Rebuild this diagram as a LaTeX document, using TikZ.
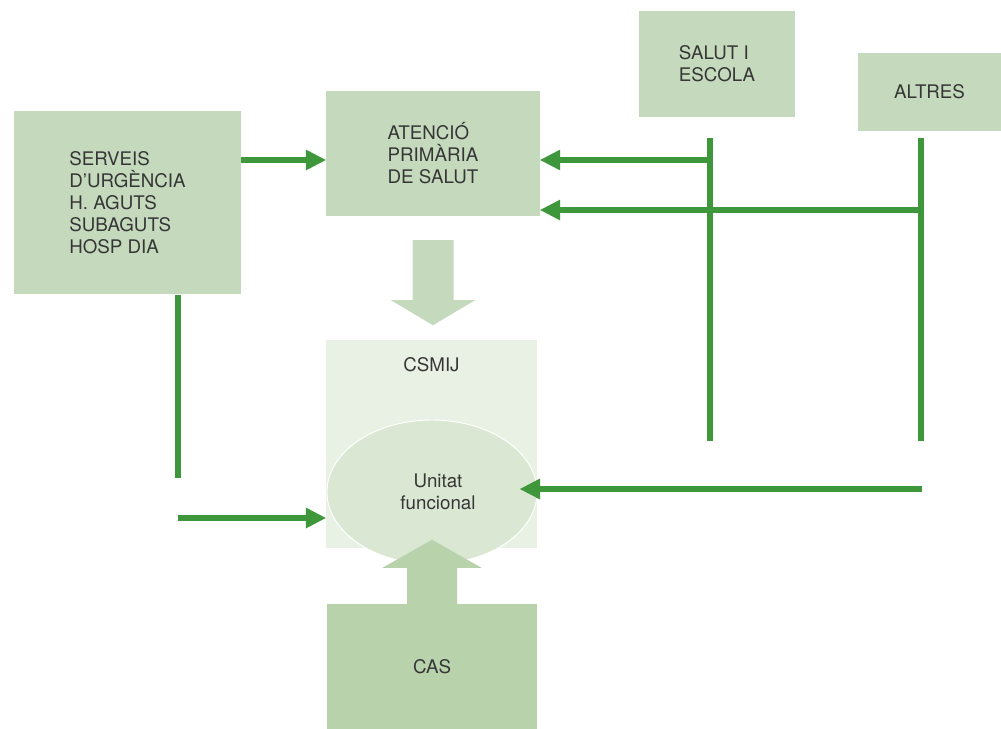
\documentclass[tikz,border=0pt]{standalone}
\usepackage{fontspec}
\setmainfont{TeX Gyre Heros}
\usetikzlibrary{shapes.geometric,arrows.meta}
\definecolor{boxg}{HTML}{C5DABD}
\definecolor{casg}{HTML}{B8D2AC}
\definecolor{csmijg}{HTML}{E9F1E5}
\definecolor{ellg}{HTML}{DAE7D3}
\definecolor{lineg}{HTML}{3F973B}
\definecolor{txt}{HTML}{363636}
\begin{document}
\begin{tikzpicture}[x=0.03cm,y=-0.03cm,
  every node/.style={font=\fontsize{16}{18.8}\selectfont, text=txt},
  box/.style={fill=boxg, inner sep=0pt, draw=none, align=left},
  flow/.style={draw=lineg, line width=0.18cm, -{Triangle[length=0.6cm,width=0.63cm,line width=0pt]}},
  bar/.style={draw=lineg, line width=0.18cm},
  bigarrow/.style={draw=none}]
\useasboundingbox (0,0) rectangle (1001,729);

% boxes
\node[box, minimum width=6.81cm, minimum height=5.49cm] (serv) at (127.5,202.5)
  {SERVEIS\\D’URGÈNCIA\\H. AGUTS\\SUBAGUTS\\HOSP DIA};
\node[box, minimum width=6.42cm, minimum height=3.75cm] (ate) at (433,153.5)
  {ATENCIÓ\\PRIMÀRIA\\DE SALUT};
\node[box, minimum width=4.68cm, minimum height=3.18cm] (salut) at (717,64)
  {SALUT I\\ESCOLA};
\node[box, minimum width=4.29cm, minimum height=2.34cm, align=center] (altres) at (929.5,92)
  {ALTRES};
\node[fill=csmijg, inner sep=0pt, minimum width=6.33cm, minimum height=6.24cm] (csmij) at (431.5,444) {};
\node (csmijlabel) at (431.5,365) {CSMIJ};
\node[ellipse, fill=ellg, draw=white, line width=0.8pt, inner sep=0pt,
  minimum width=6.3cm, minimum height=4.32cm, align=center] (unit) at (432,492)
  {\hspace*{0.36cm}Unitat\\\hspace*{0.36cm}funcional};
\node[fill=casg, inner sep=0pt, minimum width=6.3cm, minimum height=3.75cm] (cas) at (432,666.5) {CAS};

% big arrows
\fill[casg] (cas.north) ++(-25,0) -- ++(0,-36) -- ++(-24.5,0) -- ++(49.5,-28)
  -- ++(49.5,28) -- ++(-24.5,0) -- ++(0,36) -- cycle;
\fill[boxg] (ate.south) ++(-20.5,24) -- ++(0,60) -- ++(-21.5,0) -- ++(42,25)
  -- ++(42,-25) -- ++(-21.5,0) -- ++(0,-60) -- cycle;

% coordinates
\coordinate (s1) at (710,138);
\coordinate (s2) at (710,441);
\coordinate (sj) at (710,160);
\coordinate (a1) at (921,138);
\coordinate (a2) at (921,441);
\coordinate (aj) at (921,210);
\coordinate (e1) at (178,295);
\coordinate (e2) at (178,478);
\coordinate (e3) at (178,518);
\coordinate (r1) at (922,489);
\coordinate (r2) at (520,489);
\coordinate (sv) at (241,160);

% green connectors
\draw[bar] (s1) -- (s2);
\draw[bar] (a1) -- (a2);
\draw[bar] (e1) -- (e2);
\draw[flow] (sv) -- (sv -| ate.west);
\draw[flow] (sj) -- (sj -| ate.east);
\draw[flow] (aj) -- (aj -| ate.east);
\draw[flow] (e3) -- (e3 -| csmij.west);
\draw[flow] (r1) -- (r2);
\end{tikzpicture}
\end{document}
